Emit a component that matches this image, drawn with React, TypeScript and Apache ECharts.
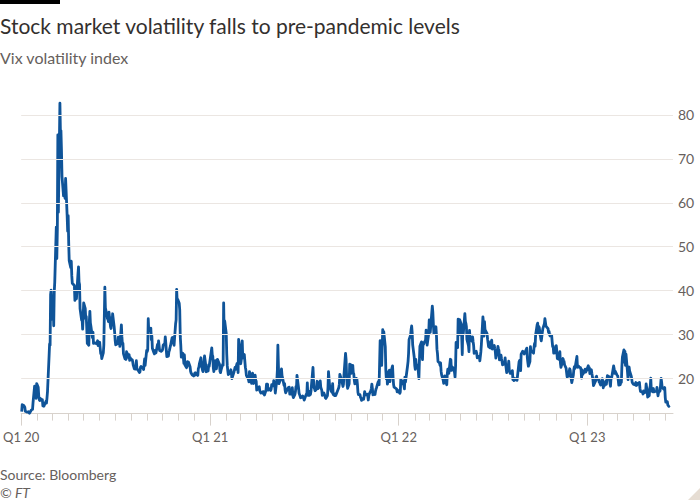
import React, { useEffect, useRef } from "react";
import * as echarts from "echarts";

// Vix daily closes ("MM-DD", value)
const vix2020: [string, number][] = [
  ["01-02",12.47],["01-03",14.02],["01-06",13.85],["01-07",13.79],["01-08",13.45],["01-09",12.54],["01-10",12.56],["01-13",12.32],["01-14",12.39],["01-15",12.42],["01-16",12.32],["01-17",12.10],["01-21",12.85],["01-22",12.91],["01-23",12.98],["01-24",14.56],["01-27",18.23],["01-28",16.28],["01-29",16.39],["01-30",15.49],["01-31",18.84],
  ["02-03",17.97],["02-04",16.05],["02-05",15.15],["02-06",14.96],["02-07",15.47],["02-10",15.04],["02-11",15.18],["02-12",13.74],["02-13",14.15],["02-14",13.68],["02-18",14.83],["02-19",14.38],["02-20",15.56],["02-21",17.08],["02-24",25.03],["02-25",27.85],["02-26",27.56],["02-27",39.16],["02-28",40.11],
  ["03-02",33.42],["03-03",36.82],["03-04",31.99],["03-05",39.62],["03-06",41.94],["03-09",54.46],["03-10",47.30],["03-11",53.90],["03-12",75.47],["03-13",57.83],["03-16",82.69],["03-17",75.91],["03-18",76.45],["03-19",72.00],["03-20",66.04],["03-23",61.59],["03-24",61.67],["03-25",63.95],["03-26",61.00],["03-27",65.54],["03-30",57.08],["03-31",53.54],
  ["04-01",57.06],["04-02",50.91],["04-03",46.80],["04-06",45.24],["04-07",46.70],["04-08",43.35],["04-09",41.67],["04-13",41.17],["04-14",37.76],["04-15",40.84],["04-16",40.11],["04-17",38.15],["04-20",43.83],["04-21",45.41],["04-22",41.98],["04-23",41.38],["04-24",35.93],["04-27",33.29],["04-28",33.57],["04-29",31.23],["04-30",34.15],
  ["05-01",37.19],["05-04",35.97],["05-05",33.61],["05-06",34.12],["05-07",31.44],["05-08",27.98],["05-11",27.57],["05-12",33.04],["05-13",35.28],["05-14",32.61],["05-15",31.89],["05-18",29.30],["05-19",30.53],["05-20",27.99],["05-21",28.16],["05-22",28.16],["05-26",27.91],["05-27",28.01],["05-28",28.59],["05-29",27.51],
  ["06-01",28.23],["06-02",26.84],["06-03",25.66],["06-04",25.81],["06-05",24.52],["06-08",25.81],["06-09",27.57],["06-10",27.57],["06-11",40.79],["06-12",36.09],["06-15",34.40],["06-16",33.67],["06-17",33.47],["06-18",32.94],["06-19",35.12],["06-22",31.77],["06-23",31.37],["06-24",33.84],["06-25",32.22],["06-26",34.73],["06-29",31.78],["06-30",30.43],
  ["07-01",28.62],["07-02",27.68],["07-06",27.94],["07-07",29.43],["07-08",28.08],["07-09",29.26],["07-10",27.29],["07-13",32.19],["07-14",29.52],["07-15",27.76],["07-16",28.00],["07-17",25.68],["07-20",24.46],["07-21",24.84],["07-22",24.32],["07-23",26.08],["07-24",25.84],["07-27",24.74],["07-28",25.44],["07-29",24.10],["07-30",24.76],["07-31",24.46],
  ["08-03",24.28],["08-04",23.76],["08-05",23.00],["08-06",22.65],["08-07",22.21],["08-10",22.13],["08-11",24.03],["08-12",22.28],["08-13",22.13],["08-14",22.05],["08-17",21.35],["08-18",21.51],["08-19",22.54],["08-20",22.72],["08-21",22.54],["08-24",22.37],["08-25",22.03],["08-26",23.27],["08-27",24.47],["08-28",22.96],["08-31",26.41],
  ["09-01",26.12],["09-02",26.57],["09-03",33.60],["09-04",30.75],["09-08",31.46],["09-09",28.81],["09-10",29.71],["09-11",26.87],["09-14",25.85],["09-15",25.59],["09-16",26.04],["09-17",26.46],["09-18",25.83],["09-21",27.78],["09-22",26.86],["09-23",28.58],["09-24",28.51],["09-25",26.38],["09-28",26.19],["09-29",26.27],["09-30",26.37],
  ["10-01",26.70],["10-02",27.63],["10-05",27.96],["10-06",29.48],["10-07",28.06],["10-08",26.36],["10-09",25.00],["10-12",25.07],["10-13",26.07],["10-14",26.40],["10-15",26.97],["10-16",27.41],["10-19",29.18],["10-20",29.35],["10-21",28.65],["10-22",28.11],["10-23",27.55],["10-26",32.46],["10-27",33.35],["10-28",40.28],["10-29",37.59],["10-30",38.02],
  ["11-02",37.13],["11-03",35.55],["11-04",29.57],["11-05",27.58],["11-06",24.86],["11-09",25.75],["11-10",24.80],["11-11",23.45],["11-12",25.35],["11-13",23.10],["11-16",22.45],["11-17",22.71],["11-18",23.84],["11-19",23.11],["11-20",23.70],["11-23",22.66],["11-24",21.64],["11-25",21.25],["11-27",20.84],["11-30",20.57],
  ["12-01",20.77],["12-02",21.17],["12-03",21.28],["12-04",20.79],["12-07",21.30],["12-08",20.68],["12-09",22.27],["12-10",22.52],["12-11",23.31],["12-14",24.72],["12-15",22.89],["12-16",22.50],["12-17",21.93],["12-18",21.57],["12-21",25.16],["12-22",24.23],["12-23",23.31],["12-24",21.53],["12-28",21.70],["12-29",23.08],["12-30",22.77],["12-31",22.75],
];

const vix2021: [string, number][] = [
  ["01-04",26.97],["01-05",25.34],["01-06",25.07],["01-07",22.37],["01-08",21.56],["01-11",24.08],["01-12",23.33],["01-13",22.21],["01-14",23.25],["01-15",24.34],["01-19",23.24],["01-20",21.58],["01-21",21.32],["01-22",21.91],["01-25",23.19],["01-26",23.02],["01-27",37.21],["01-28",30.21],["01-29",33.09],
  ["02-01",30.24],["02-02",25.56],["02-03",22.91],["02-04",21.77],["02-05",20.87],["02-08",21.24],["02-09",21.63],["02-10",21.99],["02-11",21.25],["02-12",19.97],["02-16",21.46],["02-17",21.50],["02-18",22.49],["02-19",22.05],["02-22",23.45],["02-23",23.11],["02-24",21.34],["02-25",28.89],["02-26",27.95],
  ["03-01",23.35],["03-02",24.10],["03-03",26.67],["03-04",28.57],["03-05",24.66],["03-08",25.47],["03-09",24.03],["03-10",22.56],["03-11",21.91],["03-12",20.69],["03-15",20.03],["03-16",19.79],["03-17",19.23],["03-18",21.58],["03-19",20.95],["03-22",18.88],["03-23",20.30],["03-24",21.20],["03-25",19.81],["03-26",18.86],["03-29",20.74],["03-30",19.61],["03-31",19.40],
  ["04-01",17.33],["04-05",17.91],["04-06",18.12],["04-07",17.16],["04-08",16.95],["04-09",16.69],["04-12",16.91],["04-13",16.65],["04-14",16.99],["04-15",16.57],["04-16",16.25],["04-19",17.29],["04-20",18.68],["04-21",17.50],["04-22",18.71],["04-23",17.33],["04-26",17.64],["04-27",17.56],["04-28",17.28],["04-29",17.61],["04-30",18.61],
  ["05-03",18.31],["05-04",19.48],["05-05",19.15],["05-06",18.39],["05-07",16.69],["05-10",19.66],["05-11",21.84],["05-12",27.59],["05-13",23.13],["05-14",18.81],["05-17",19.72],["05-18",21.34],["05-19",22.18],["05-20",20.67],["05-21",20.15],["05-24",18.40],["05-25",18.84],["05-26",17.36],["05-27",16.74],["05-28",16.76],
  ["06-01",17.90],["06-02",17.48],["06-03",18.04],["06-04",16.42],["06-07",16.42],["06-08",17.07],["06-09",17.89],["06-10",16.10],["06-11",15.65],["06-14",16.39],["06-15",17.02],["06-16",18.15],["06-17",17.75],["06-18",20.70],["06-21",17.89],["06-22",16.66],["06-23",16.32],["06-24",15.97],["06-25",15.62],["06-28",15.76],["06-29",16.02],["06-30",15.83],
  ["07-01",15.48],["07-02",15.07],["07-06",16.44],["07-07",16.20],["07-08",19.00],["07-09",16.18],["07-12",16.17],["07-13",17.12],["07-14",16.33],["07-15",17.01],["07-16",18.45],["07-19",22.50],["07-20",19.73],["07-21",17.91],["07-22",17.69],["07-23",17.20],["07-26",17.58],["07-27",19.36],["07-28",18.31],["07-29",17.70],["07-30",18.24],
  ["08-02",19.46],["08-03",18.04],["08-04",17.97],["08-05",17.28],["08-06",16.15],["08-09",16.72],["08-10",16.79],["08-11",16.06],["08-12",15.59],["08-13",15.45],["08-16",16.12],["08-17",17.91],["08-18",21.57],["08-19",21.67],["08-20",18.56],["08-23",17.15],["08-24",17.22],["08-25",16.79],["08-26",18.84],["08-27",16.39],["08-30",16.11],["08-31",16.48],
  ["09-01",16.11],["09-02",16.41],["09-03",16.41],["09-07",17.96],["09-08",18.71],["09-09",20.95],["09-10",20.95],["09-13",19.37],["09-14",19.46],["09-15",18.18],["09-16",18.69],["09-17",20.81],["09-20",25.71],["09-21",24.36],["09-22",20.87],["09-23",18.63],["09-24",17.75],["09-27",18.76],["09-28",23.25],["09-29",22.56],["09-30",23.14],
  ["10-01",21.15],["10-04",22.96],["10-05",21.30],["10-06",21.00],["10-07",19.54],["10-08",18.77],["10-11",20.00],["10-12",19.85],["10-13",18.64],["10-14",16.86],["10-15",16.30],["10-18",16.30],["10-19",15.70],["10-20",15.49],["10-21",15.01],["10-22",15.43],["10-25",15.24],["10-26",15.98],["10-27",16.98],["10-28",16.53],["10-29",16.26],
  ["11-01",16.41],["11-02",16.03],["11-03",15.10],["11-04",16.03],["11-05",16.48],["11-08",17.22],["11-09",17.78],["11-10",18.73],["11-11",17.66],["11-12",16.29],["11-15",16.49],["11-16",16.37],["11-17",17.11],["11-18",17.59],["11-19",17.91],["11-22",19.17],["11-23",19.38],["11-24",18.58],["11-26",28.62],["11-29",22.96],["11-30",27.19],
  ["12-01",31.12],["12-02",27.95],["12-03",30.67],["12-06",27.18],["12-07",21.89],["12-08",19.90],["12-09",21.58],["12-10",18.69],["12-13",20.31],["12-14",21.89],["12-15",19.29],["12-16",20.57],["12-17",21.57],["12-20",22.87],["12-21",20.31],["12-22",18.63],["12-23",18.02],["12-27",17.68],["12-28",17.54],["12-29",16.95],["12-30",17.33],["12-31",17.22],
];

const vix2022: [string, number][] = [
  ["01-03",16.60],["01-04",16.91],["01-05",19.73],["01-06",19.61],["01-07",18.76],["01-10",19.40],["01-11",18.41],["01-12",17.62],["01-13",20.31],["01-14",19.19],["01-18",22.79],["01-19",23.85],["01-20",25.59],["01-21",28.85],["01-24",29.90],["01-25",31.16],["01-26",31.96],["01-27",30.49],["01-28",27.66],["01-31",24.83],
  ["02-01",22.96],["02-02",22.09],["02-03",24.35],["02-04",23.22],["02-07",22.86],["02-08",21.44],["02-09",19.96],["02-10",23.91],["02-11",27.36],["02-14",28.33],["02-15",25.70],["02-16",24.29],["02-17",28.11],["02-18",27.75],["02-22",28.81],["02-23",31.02],["02-24",30.32],["02-25",27.59],["02-28",30.15],
  ["03-01",33.32],["03-02",31.00],["03-03",30.48],["03-04",31.98],["03-07",36.45],["03-08",35.13],["03-09",32.45],["03-10",30.23],["03-11",30.75],["03-14",31.77],["03-15",29.83],["03-16",26.67],["03-17",25.67],["03-18",23.87],["03-21",23.53],["03-22",22.94],["03-23",23.57],["03-24",21.67],["03-25",20.81],["03-28",19.63],["03-29",18.90],["03-30",19.33],["03-31",20.56],
  ["04-01",19.63],["04-04",18.57],["04-05",21.03],["04-06",22.10],["04-07",21.55],["04-08",21.16],["04-11",24.37],["04-12",24.26],["04-13",21.82],["04-14",22.70],["04-18",22.17],["04-19",21.37],["04-20",20.32],["04-21",22.68],["04-22",28.21],["04-25",27.02],["04-26",33.52],["04-27",31.60],["04-28",29.99],["04-29",33.40],
  ["05-02",32.34],["05-03",29.25],["05-04",25.42],["05-05",31.20],["05-06",30.19],["05-09",34.75],["05-10",32.99],["05-11",32.56],["05-12",31.77],["05-13",28.87],["05-16",27.47],["05-17",26.10],["05-18",30.96],["05-19",29.35],["05-20",29.43],["05-23",28.48],["05-24",29.45],["05-25",28.37],["05-26",27.50],["05-27",25.72],["05-31",26.19],
  ["06-01",25.69],["06-02",24.72],["06-03",24.79],["06-06",25.07],["06-07",24.02],["06-08",23.96],["06-09",26.09],["06-10",27.75],["06-13",34.02],["06-14",32.69],["06-15",29.62],["06-16",32.95],["06-17",31.13],["06-21",30.19],["06-22",28.95],["06-23",29.05],["06-24",27.23],["06-27",26.95],["06-28",28.36],["06-29",28.16],["06-30",28.71],
  ["07-01",26.70],["07-05",27.54],["07-06",26.73],["07-07",26.08],["07-08",24.64],["07-11",26.17],["07-12",27.29],["07-13",26.82],["07-14",26.40],["07-15",24.23],["07-18",25.30],["07-19",24.50],["07-20",23.88],["07-21",23.11],["07-22",23.03],["07-25",23.36],["07-26",24.69],["07-27",23.24],["07-28",22.33],["07-29",21.33],
  ["08-01",22.84],["08-02",23.93],["08-03",21.95],["08-04",21.44],["08-05",21.15],["08-08",21.29],["08-09",21.77],["08-10",19.74],["08-11",20.20],["08-12",19.53],["08-15",19.95],["08-16",19.69],["08-17",19.90],["08-18",19.56],["08-19",20.60],["08-22",23.80],["08-23",24.11],["08-24",22.82],["08-25",21.78],["08-26",25.56],["08-29",26.21],["08-30",26.21],["08-31",25.87],
  ["09-01",25.56],["09-02",25.47],["09-06",26.91],["09-07",24.64],["09-08",23.61],["09-09",22.79],["09-12",23.87],["09-13",27.27],["09-14",26.16],["09-15",26.27],["09-16",26.30],["09-19",25.76],["09-20",27.16],["09-21",27.99],["09-22",27.35],["09-23",29.92],["09-26",32.26],["09-27",32.60],["09-28",30.18],["09-29",31.84],["09-30",31.62],
  ["10-03",29.07],["10-04",28.55],["10-05",28.55],["10-06",30.52],["10-07",31.36],["10-10",32.45],["10-11",33.63],["10-12",33.57],["10-13",31.94],["10-14",32.02],["10-17",31.37],["10-18",30.50],["10-19",30.76],["10-20",29.98],["10-21",29.69],["10-24",29.85],["10-25",28.46],["10-26",27.28],["10-27",27.39],["10-28",25.75],["10-31",25.88],
  ["11-01",25.81],["11-02",27.47],["11-03",26.30],["11-04",24.55],["11-07",24.35],["11-08",25.54],["11-09",26.09],["11-10",23.53],["11-11",22.52],["11-14",23.73],["11-15",24.54],["11-16",24.11],["11-17",23.93],["11-18",23.12],["11-21",22.36],["11-22",21.35],["11-23",20.35],["11-25",20.50],["11-28",22.21],["11-29",21.89],["11-30",20.58],
  ["12-01",19.84],["12-02",19.06],["12-05",20.75],["12-06",22.01],["12-07",22.68],["12-08",22.29],["12-09",22.83],["12-12",25.00],["12-13",22.55],["12-14",22.68],["12-15",22.83],["12-16",22.62],["12-19",22.42],["12-20",21.97],["12-21",20.07],["12-22",21.97],["12-23",20.87],["12-27",21.65],["12-28",22.14],["12-29",21.44],["12-30",21.67],
];

const vix2023: [string, number][] = [
  ["01-03",22.90],["01-04",22.01],["01-05",22.46],["01-06",21.13],["01-09",21.97],["01-10",21.07],["01-11",21.09],["01-12",19.71],["01-13",18.35],["01-17",19.36],["01-18",20.34],["01-19",20.52],["01-20",19.85],["01-23",19.81],["01-24",19.20],["01-25",19.08],["01-26",18.73],["01-27",18.51],["01-30",19.94],["01-31",19.40],
  ["02-01",17.87],["02-02",18.73],["02-03",18.33],["02-06",19.43],["02-07",18.66],["02-08",19.63],["02-09",20.63],["02-10",20.53],["02-13",20.34],["02-14",18.91],["02-15",18.23],["02-16",20.17],["02-17",20.02],["02-21",22.87],["02-22",22.29],["02-23",21.14],["02-24",21.67],["02-27",20.95],["02-28",20.70],
  ["03-01",20.58],["03-02",19.59],["03-03",18.49],["03-06",18.60],["03-07",19.59],["03-08",19.11],["03-09",22.61],["03-10",24.80],["03-13",26.52],["03-14",23.73],["03-15",26.14],["03-16",22.99],["03-17",25.51],["03-20",21.38],["03-21",19.75],["03-22",22.26],["03-23",22.61],["03-24",21.74],["03-27",20.60],["03-28",19.97],["03-29",19.12],["03-30",19.02],["03-31",18.70],
  ["04-03",18.55],["04-04",18.58],["04-05",19.08],["04-06",18.40],["04-10",18.97],["04-11",18.97],["04-12",19.09],["04-13",17.80],["04-14",17.07],["04-17",16.95],["04-18",16.83],["04-19",16.46],["04-20",17.15],["04-21",16.77],["04-24",16.89],["04-25",18.76],["04-26",18.84],["04-27",17.03],["04-28",15.78],
  ["05-01",16.08],["05-02",17.78],["05-03",18.34],["05-04",20.09],["05-05",17.19],["05-08",16.98],["05-09",17.71],["05-10",16.94],["05-11",16.93],["05-12",17.03],["05-15",17.12],["05-16",17.99],["05-17",16.87],["05-18",16.05],["05-19",16.81],["05-22",17.21],["05-23",18.53],["05-24",20.03],["05-25",19.14],["05-26",17.95],["05-30",17.46],["05-31",17.94],
  ["06-01",15.65],["06-02",14.60],["06-05",14.73],["06-06",13.96],["06-07",13.94],["06-08",13.65],["06-09",13.83],
];

const yearTicks = ["2020-01-01", "2021-01-01", "2022-01-01", "2023-01-01"];
const yearTickLabels = ["Q1 20", "Q1 21", "Q1 22", "Q1 23"];
const gridValues = [20, 30, 40, 50, 60, 70, 80];
const axisStart = "2020-01-01";
const axisEnd = "2023-06-16";

const TITLE = "Stock market volatility falls to pre-pandemic levels";
const SUBTITLE = "Vix volatility index";
const SOURCE = "Source: Bloomberg";
const CREDIT = "© FT";

function ts(s: string): number {
  const [y, m, d] = s.split("-").map(Number);
  return Date.UTC(y, m - 1, d);
}

function yearSeries(year: number, arr: [string, number][]) {
  return arr.map(([md, v]) => [ts(`${year}-${md}`), v]);
}

export default function App() {
  const ref = useRef<HTMLDivElement>(null);
  useEffect(() => {
    if (!ref.current) return;
    const chart = echarts.init(ref.current, undefined, { renderer: "svg" });

    const data = [
      ...yearSeries(2020, vix2020),
      ...yearSeries(2021, vix2021),
      ...yearSeries(2022, vix2022),
      ...yearSeries(2023, vix2023),
    ];

    const minX = ts(axisStart);
    const maxX = ts(axisEnd);
    const monthTicks: number[] = [];
    for (let y = 2020; y <= 2023; y++) {
      for (let m = 0; m < 12; m++) {
        const t = Date.UTC(y, m, 1);
        if (t >= minX && t <= maxX) monthTicks.push(t);
      }
    }
    const yearTs = yearTicks.map(ts);

    const font = "Lato, 'Noto Sans', sans-serif";
    const grey = "#66605c";
    const axisColor = "#d8d2cc";

    chart.setOption({
      animation: false,
      backgroundColor: "#ffffff",
      textStyle: { fontFamily: font },
      grid: { left: 19.5, right: 27, top: 93, bottom: 86.4, containLabel: false },
      xAxis: [
        {
          type: "value",
          min: minX,
          max: maxX,
          position: "bottom",
          axisLine: { show: true, lineStyle: { color: axisColor, width: 1 } },
          axisTick: { show: true, customValues: monthTicks, length: 7, lineStyle: { color: axisColor } },
          axisLabel: { show: false },
          splitLine: { show: false },
        },
        {
          type: "value",
          min: minX,
          max: maxX,
          position: "bottom",
          axisLine: { show: false },
          axisTick: { show: true, customValues: yearTs, length: 12, lineStyle: { color: axisColor } },
          axisLabel: {
            show: true,
            customValues: yearTs,
            margin: 17,
            color: grey,
            fontSize: 13,
            fontFamily: font,
            formatter: (v: number) => {
              const i = yearTs.indexOf(v);
              return i >= 0 ? yearTickLabels[i] : "";
            },
          },
          splitLine: { show: false },
        },
      ],
      yAxis: {
        type: "value",
        min: 12,
        max: 85,
        axisLine: { show: false },
        axisTick: { show: false },
        axisLabel: { show: false },
        splitLine: { show: false },
      },
      series: [
        {
          type: "line",
          name: "grid",
          data: [],
          z: 1,
          silent: true,
          markLine: {
            silent: true,
            symbol: "none",
            animation: false,
            lineStyle: { color: "#ebe6e2", width: 1, type: "solid" },
            label: {
              show: true,
              position: "end",
              distance: 5,
              color: grey,
              fontSize: 14,
              fontFamily: font,
              formatter: (p: any) => String(p.value),
            },
            emphasis: { disabled: true },
            data: gridValues.map((v) => ({ yAxis: v })),
          },
        },
        {
          type: "line",
          name: "Vix",
          data,
          z: 3,
          xAxisIndex: 0,
          showSymbol: false,
          symbol: "none",
          lineStyle: { color: "#0f5499", width: 2.8, join: "round" },
          emphasis: { disabled: true },
        },
      ],
      graphic: [
        { type: "rect", left: 0, top: 0, shape: { width: 60, height: 4 }, style: { fill: "#000000" } },
        {
          type: "text",
          x: 0,
          y: 25,
          style: { text: TITLE, fill: "#33302e", fontSize: 21, fontFamily: font, textVerticalAlign: "middle" },
        },
        {
          type: "text",
          x: 0,
          y: 57,
          style: { text: SUBTITLE, fill: grey, fontSize: 16, fontFamily: font, textVerticalAlign: "middle" },
        },
        {
          type: "text",
          x: 0,
          y: 474,
          style: { text: SOURCE, fill: grey, fontSize: 14, fontFamily: font, textVerticalAlign: "middle" },
        },
        {
          type: "text",
          x: 0,
          y: 492,
          style: { text: CREDIT, fill: grey, fontSize: 14, fontStyle: "italic", fontFamily: font, textVerticalAlign: "middle" },
        },
        {
          type: "polygon",
          shape: { points: [[700, 488], [700, 500], [688, 500]] },
          style: { fill: "#e6ddd3" },
        },
      ],
    });

    return () => chart.dispose();
  }, []);

  return <div ref={ref} style={{ width: 700, height: 500, position: "fixed", left: 0, top: 0 }} />;
}
